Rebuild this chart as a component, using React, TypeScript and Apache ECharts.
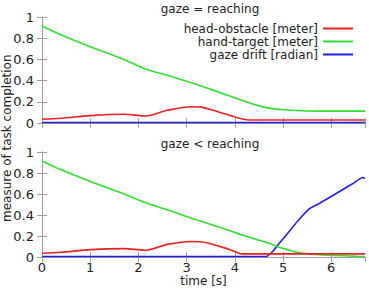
import React, { useEffect, useRef } from "react";
import * as echarts from "echarts";

// time samples [s]
const timeTop = [0, 0.4, 1.0, 1.7, 2.15, 2.6, 3.1, 3.3, 3.8, 4.3, 4.6, 5.0, 5.5, 6.0, 6.7];
const headObstacleTop = [0.035, 0.045, 0.07, 0.082, 0.066, 0.12, 0.154, 0.15, 0.085, 0.028, 0.028, 0.028, 0.028, 0.028, 0.028];
const handTargetTop = [0.915, 0.83, 0.72, 0.6, 0.51, 0.45, 0.38, 0.35, 0.27, 0.19, 0.15, 0.125, 0.113, 0.112, 0.112];
const gazeDriftTop = [0.005, 0.005, 0.005, 0.005, 0.005, 0.005, 0.005, 0.005, 0.005, 0.005, 0.005, 0.005, 0.005, 0.005, 0.005];

const timeBottom = [0, 0.4, 1.0, 1.7, 2.15, 2.6, 3.1, 3.3, 3.9, 4.15, 4.65, 4.8, 4.9, 5.05, 5.3, 5.55, 5.75, 6.05, 6.45, 6.65, 6.7];
const headObstacleBottom = [0.035, 0.045, 0.07, 0.08, 0.065, 0.12, 0.148, 0.145, 0.07, 0.03, 0.03, 0.03, 0.03, 0.03, 0.03, 0.03, 0.03, 0.03, 0.03, 0.03, 0.03];
const handTargetBottom = [0.915, 0.83, 0.72, 0.6, 0.517, 0.45, 0.37, 0.34, 0.25, 0.21, 0.14, 0.115, 0.095, 0.075, 0.045, 0.03, 0.022, 0.015, 0.008, 0.005, 0.005];
const gazeDriftBottom = [0.005, 0.005, 0.005, 0.005, 0.005, 0.005, 0.005, 0.005, 0.005, 0.005, 0.005, 0.06, 0.12, 0.2, 0.34, 0.46, 0.51, 0.59, 0.7, 0.757, 0.75];

const xTicks = [0, 1, 2, 3, 4, 5, 6];
const yTicks = [0, 0.2, 0.4, 0.6, 0.8, 1];

const seriesNames = ["head-obstacle [meter]", "hand-target [meter]", "gaze drift [radian]"];
const seriesColors = ["#e82020", "#30e030", "#2020e0"];
const titles = ["gaze = reaching", "gaze < reaching"];

const FONT = "DejaVu Sans";

function pairs(xs: number[], ys: number[]) {
  return xs.map((x, i) => [x, ys[i]]);
}

export default function App() {
  const ref = useRef<HTMLDivElement>(null);

  useEffect(() => {
    if (!ref.current) return;
    const chart = echarts.init(ref.current, undefined, { renderer: "svg" });

    const grids = [
      { left: 42, right: 4, top: 17, height: 106 },
      { left: 42, right: 4, top: 152, height: 105 },
    ];

    const tickLabelFmt = (v: number) => {
      const r = Math.round(v * 10) / 10;
      return xTicks.includes(r) || yTicks.includes(r) ? String(r) : "";
    };

    const axisLine = { show: true, lineStyle: { color: "#a0a0a0", width: 1 } };
    const axisTick = { show: true, inside: true, length: 5, lineStyle: { color: "#a0a0a0" } };

    const xAxes: any[] = [];
    const yAxes: any[] = [];
    grids.forEach((_, gi) => {
      // bottom axis (labels only on lower panel)
      xAxes.push({
        type: "value",
        gridIndex: gi,
        min: 0,
        max: 6.7,
        interval: 1,
        position: "bottom",
        axisLine,
        axisTick,
        axisLabel: {
          show: gi === 1,
          color: "#222",
          fontFamily: FONT,
          fontSize: 13,
          margin: 4,
          showMaxLabel: false,
          formatter: tickLabelFmt,
        },
        splitLine: { show: false },
        name: gi === 1 ? "time [s]" : "",
        nameLocation: "middle",
        nameGap: 17,
        nameTextStyle: { color: "#222", fontFamily: FONT, fontSize: 12 },
      });
      // mirrored top axis
      xAxes.push({
        type: "value",
        gridIndex: gi,
        min: 0,
        max: 6.7,
        interval: 1,
        position: "top",
        axisLine,
        axisTick,
        axisLabel: { show: false },
        splitLine: { show: false },
      });
      yAxes.push({
        type: "value",
        gridIndex: gi,
        min: 0,
        max: 1,
        interval: 0.2,
        position: "left",
        axisLine,
        axisTick,
        axisLabel: {
          color: "#222",
          fontFamily: FONT,
          fontSize: 13,
          margin: 8,
          formatter: (v: number) => String(Math.round(v * 10) / 10),
        },
        splitLine: { show: false },
      });
      // mirrored right axis
      yAxes.push({
        type: "value",
        gridIndex: gi,
        min: 0,
        max: 1,
        interval: 0.2,
        position: "right",
        axisLine,
        axisTick,
        axisLabel: { show: false },
        splitLine: { show: false },
      });
    });

    const topData = [headObstacleTop, handTargetTop, gazeDriftTop];
    const bottomData = [headObstacleBottom, handTargetBottom, gazeDriftBottom];

    const series: any[] = [];
    seriesNames.forEach((name, i) => {
      series.push({
        type: "line",
        name,
        xAxisIndex: 0,
        yAxisIndex: 0,
        data: pairs(timeTop, topData[i]),
        showSymbol: false,
        smooth: 0.3,
        lineStyle: { color: seriesColors[i], width: 1.6 },
        itemStyle: { color: seriesColors[i] },
        z: 3 - i,
      });
      series.push({
        type: "line",
        name,
        xAxisIndex: 2,
        yAxisIndex: 2,
        data: pairs(timeBottom, bottomData[i]),
        showSymbol: false,
        smooth: i === 2 ? 0.15 : 0.3,
        lineStyle: { color: seriesColors[i], width: 1.6 },
        itemStyle: { color: seriesColors[i] },
        z: 3 - i,
      });
    });

    chart.setOption({
      animation: false,
      backgroundColor: "#ffffff",
      grid: grids,
      xAxis: xAxes,
      yAxis: yAxes,
      title: [
        {
          text: titles[0],
          left: 205,
          top: -2,
          textAlign: "center",
          textStyle: { color: "#222", fontFamily: FONT, fontSize: 12, fontWeight: "normal" },
        },
        {
          text: titles[1],
          left: 205,
          top: 133,
          textAlign: "center",
          textStyle: { color: "#222", fontFamily: FONT, fontSize: 12, fontWeight: "normal" },
        },
      ],
      legend: {
        data: seriesNames,
        orient: "vertical",
        right: 16,
        top: 22,
        padding: 0,
        align: "right",
        itemGap: 0,
        itemWidth: 30,
        itemHeight: 2,
        icon: "rect",
        textStyle: { color: "#222", fontFamily: FONT, fontSize: 12, lineHeight: 13, padding: [0, 0, 0, 0] },
      },
      graphic: [
        {
          type: "text",
          rotation: Math.PI / 2,
          x: 1,
          y: 222,
          style: {
            text: "measure of task completion",
            fill: "#222",
            font: `12px "${FONT}"`,
          },
        },
      ],
      series,
    });

    return () => chart.dispose();
  }, []);

  return <div ref={ref} style={{ width: 369, height: 288, position: "absolute", left: 0, top: 0 }} />;
}
